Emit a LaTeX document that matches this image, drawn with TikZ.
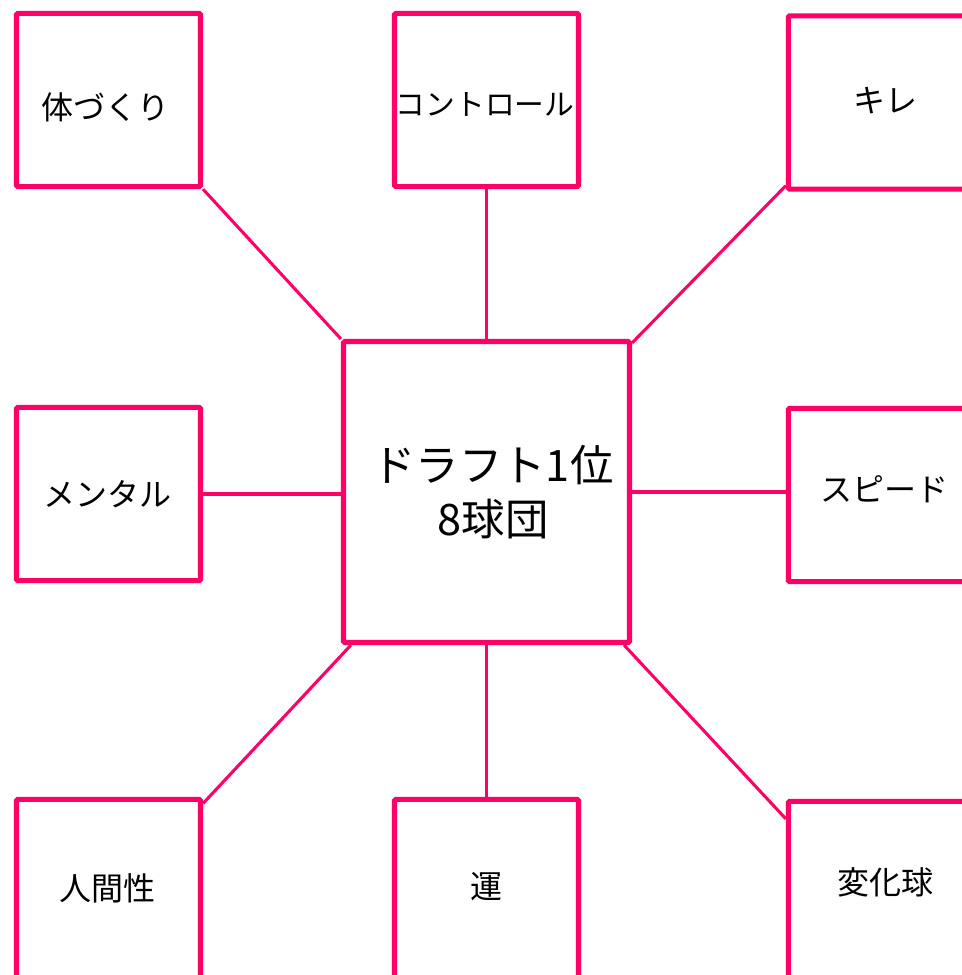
\documentclass[tikz,border=0pt]{standalone}
\usepackage{fontspec}
\setmainfont{Noto Sans CJK JP}
\definecolor{mag}{HTML}{FF0066}
\tikzset{
  box/.style={draw=mag, line width=3.8pt, rounded corners=1pt, fill=white, inner sep=0pt,
    minimum width=138pt, minimum height=130pt},
  rbox/.style={box, minimum width=145pt},
  bbox/.style={box, minimum height=142pt},
  brbox/.style={rbox, minimum height=142pt},
  cbox/.style={box, minimum width=214.5pt, minimum height=225.75pt},
  lbl/.style={inner sep=0pt, font=\fontsize{24pt}{28pt}\selectfont},
  clbl/.style={inner sep=0pt, align=center, font=\fontsize{32.5pt}{40pt}\selectfont},
  conn/.style={draw=mag, line width=2.3pt}
}
\begin{document}
\begin{tikzpicture}[x=0.75pt, y=-0.75pt]
\useasboundingbox (0,0) rectangle (962,975);
\clip (0,0) rectangle (962,975);
\node[box] (tl) at (108.5,100) {};
\node[box] (tm) at (486.5,100) {};
\node[rbox] (tr) at (885,102.5) {};
\node[box] (ml) at (108.5,494) {};
\node[rbox] (mr) at (885,495) {};
\node[bbox] (bl) at (108.5,894) {};
\node[bbox] (bm) at (486.5,894) {};
\node[brbox] (br) at (885,896) {};
\node[cbox] (c) at (486.5,492) {};
% labels
\node[lbl] (tlt) at (105,107) {体づくり};
\node[lbl, font=\fontsize{22.3pt}{26pt}\selectfont] (tmt) at (485,104) {コントロール};
\node[lbl] (trt) at (885,101) {キレ};
\node[lbl] (mlt) at (107,494) {メンタル};
\node[lbl] (mrt) at (884,489) {スピード};
\node[lbl] (blt) at (107,888) {人間性};
\node[lbl] (bmt) at (486,887) {運};
\node[lbl] (brt) at (885,882) {変化球};
\node[clbl] (ct) at (493,492) {ドラフト1位\\8球団};
% connectors
\draw[conn] (tl.south east) -- (c.north west);
\draw[conn] (tm.south) -- (c.north);
\coordinate (trs) at ([yshift=4.5pt]tr.south west);
\coordinate (ctr) at ([yshift=-3pt]c.north east);
\draw[conn] (trs) -- (ctr);
\draw[conn] (ml.east) -- (ml.east -| c.west);
\draw[conn] (c.east) -- (c.east -| mr.west);
\coordinate (cbl) at ([xshift=7.5pt]c.south west);
\coordinate (ble) at ([yshift=-5pt]bl.north east);
\draw[conn] (cbl) -- (ble);
\draw[conn] (bm.north) -- (c.south);
\coordinate (cbr) at ([xshift=-6pt]c.south east);
\coordinate (brw) at ([yshift=-15pt]br.north west);
\draw[conn] (cbr) -- (brw);
\end{tikzpicture}
\end{document}
